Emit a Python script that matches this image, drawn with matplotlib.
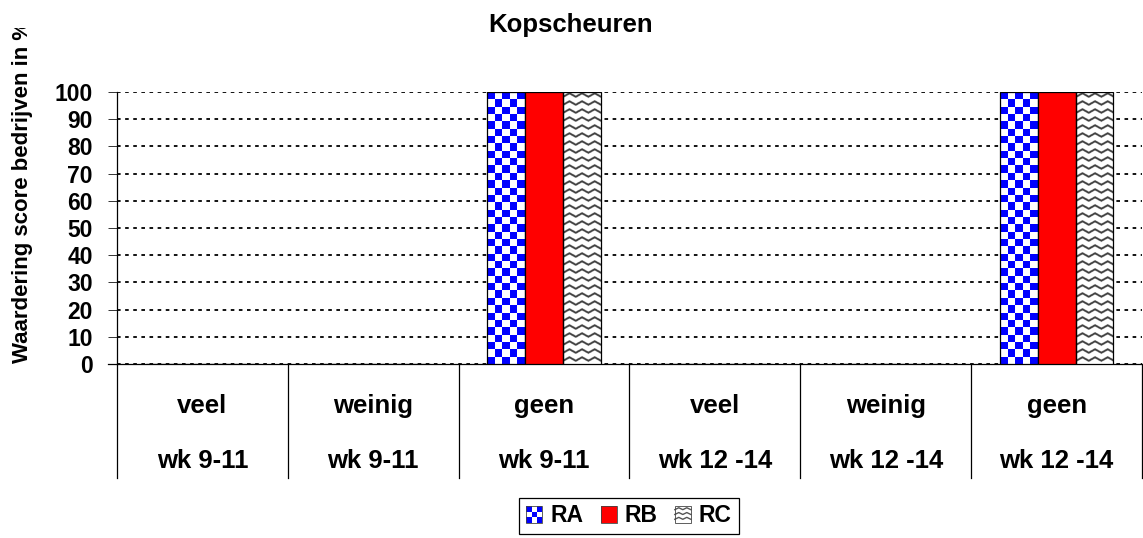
import numpy as np
import matplotlib
matplotlib.use("Agg")
import matplotlib.pyplot as plt
from matplotlib.patches import Rectangle
from matplotlib.lines import Line2D
from matplotlib.legend_handler import HandlerBase
from matplotlib.transforms import Bbox, TransformedBbox

plt.rcParams['font.family'] = ['Liberation Sans', 'DejaVu Sans']
plt.rcParams['font.weight'] = 'bold'

# data
scores = ["veel", "weinig", "geen", "veel", "weinig", "geen"]
weeks = ["wk 9-11", "wk 9-11", "wk 9-11", "wk 12 -14", "wk 12 -14", "wk 12 -14"]
series = ["RA", "RB", "RC"]
ra = [0, 0, 100, 0, 0, 100]
rb = [0, 0, 100, 0, 0, 100]
rc = [0, 0, 100, 0, 0, 100]

W, H = 1143, 538
fig = plt.figure(figsize=(W / 100, H / 100), dpi=100)
ax = fig.add_axes([117 / W, 1 - 364 / H, (1142 - 117) / W, 272 / H])
ax.set_xlim(-0.5, len(scores) - 0.5)
ax.set_ylim(0, 100)

px_x = (1142 - 117) / len(scores)   # pixels per x unit
px_y = 272 / 100                    # pixels per y unit


def checker(w_px, h_px, cell=7.4):
    nx = max(1, int(round(w_px / cell)))
    ny = max(1, int(round(h_px / cell)))
    m = np.add.outer(np.arange(ny), np.arange(nx)) % 2
    img = np.ones((ny, nx, 3))
    img[m == 0] = [0, 0, 1]
    return img


def zigzag(w_px, h_px, s=3, spacing=8.0, amp=3.5, period=12.5, thick=2.2):
    xx, yy = np.meshgrid(np.arange(int(w_px * s)) / s, np.arange(int(h_px * s)) / s)
    tri = amp * np.abs(2 * ((xx / period) % 1) - 1)
    d = (yy - tri) % spacing
    img = np.ones(xx.shape + (3,))
    img[d < thick] = [0.25, 0.25, 0.25]
    return img


def textured_bars(xs, vals, kind):
    bars = ax.bar(xs, vals, width=bw, facecolor='none', edgecolor='black',
                  linewidth=0.9, zorder=4)
    for b in bars:
        h = b.get_height()
        if h <= 0:
            continue
        x0 = b.get_x()
        w_px = b.get_width() * px_x
        h_px = h * px_y
        img = checker(w_px, h_px) if kind == 'checker' else zigzag(w_px, h_px)
        im = ax.imshow(img, extent=(x0, x0 + b.get_width(), 0, h), origin='upper',
                       interpolation='nearest' if kind == 'checker' else 'antialiased',
                       aspect='auto', zorder=3)
        im.set_clip_path(b)
    return bars


x = np.arange(len(scores))
bw = 0.222
textured_bars(x - bw, ra, 'checker')
ax.bar(x, rb, width=bw, color='#ff0000', edgecolor='black', linewidth=0.9, zorder=4)
textured_bars(x + bw, rc, 'zigzag')
ax.set_xlim(-0.5, len(scores) - 0.5)
ax.set_ylim(0, 100)

# grid and axes
ax.set_yticks(range(0, 101, 10))
ax.yaxis.grid(True, color='black', linestyle=(0, (2, 2.5)), linewidth=1.3)
ax.set_axisbelow(True)
ax.set_xticks([])
ax.tick_params(axis='y', direction='out', length=6.5, width=0.7, color='#333333',
               pad=11, labelsize=16.5)
for t in ax.get_yticklabels():
    t.set_fontweight('bold')
for s in ['top', 'right']:
    ax.spines[s].set_visible(False)
ax.spines['left'].set_linewidth(0.9)
ax.spines['bottom'].set_linewidth(0.9)
ax.plot([-0.5 - 9 / px_x, -0.5], [0, 0], color='black', lw=0.9, clip_on=False)

# category table below the axis
xt = ax.get_xaxis_transform()
for b in np.arange(len(scores) + 1) - 0.5:
    ax.plot([b, b], [0, -0.419], color='black', lw=0.9, transform=xt, clip_on=False)
for i, (sc, wk) in enumerate(zip(scores, weeks)):
    ax.text(i, -0.180, sc, transform=xt, ha='center', va='baseline', fontsize=18.5, fontweight='bold')
    ax.text(i, -0.382, wk, transform=xt, ha='center', va='baseline', fontsize=18.5, fontweight='bold')

fig.text(571 / W, 1 - 32 / H, "Kopscheuren", ha='center', va='baseline', fontsize=18.5, fontweight='bold')
yl = fig.text(23 / W, 1 - 363 / H, "Waardering score bedrijven in %", rotation=90,
              ha='center', va='bottom', fontsize=16, fontweight='bold')
yl.set_clip_box(TransformedBbox(Bbox([[0, 0], [1, 1 - 28 / H]]), fig.transFigure))
yl.set_clip_on(True)


class TextureHandler(HandlerBase):
    def __init__(self, kind):
        super().__init__()
        self.kind = kind

    def create_artists(self, legend, orig_handle, xdescent, ydescent, width, height, fontsize, trans):
        x0, y0 = -xdescent, -ydescent
        arts = [Rectangle((x0, y0), width, height, facecolor='white', edgecolor='none', transform=trans)]
        if self.kind == 'checker':
            n = 3
            cw, ch = width / n, height / n
            for i in range(n):
                for j in range(n):
                    if (i + j) % 2 == 0:
                        arts.append(Rectangle((x0 + i * cw, y0 + j * ch), cw, ch, facecolor='#0000ff',
                                              edgecolor='none', transform=trans))
        elif self.kind == 'zigzag':
            xs = np.linspace(x0, x0 + width, 5)
            for k in range(3):
                yb = y0 + height * (0.2 + 0.3 * k)
                ys = [yb + (height * 0.12 if q % 2 else 0) for q in range(5)]
                arts.append(Line2D(xs, ys, color='#555555', lw=1, transform=trans))
        else:
            arts[0].set_facecolor('#ff0000')
        arts.append(Rectangle((x0, y0), width, height, facecolor='none', edgecolor='#444444',
                              lw=0.6, transform=trans))
        return arts


h_ra, h_rb, h_rc = object(), object(), object()
leg = fig.legend([h_ra, h_rb, h_rc], series, loc='center', bbox_to_anchor=(629 / W, 1 - 516 / H),
                 ncol=3, prop={'weight': 'bold', 'size': 16.5},
                 handler_map={h_ra: TextureHandler('checker'), h_rb: TextureHandler('solid'),
                              h_rc: TextureHandler('zigzag')},
                 handlelength=0.7, handleheight=0.7, handletextpad=0.35, columnspacing=0.75,
                 borderpad=0.3, fancybox=False, edgecolor='black', framealpha=1)
leg.get_frame().set_linewidth(0.9)

fig.savefig("out.png", dpi=100)
